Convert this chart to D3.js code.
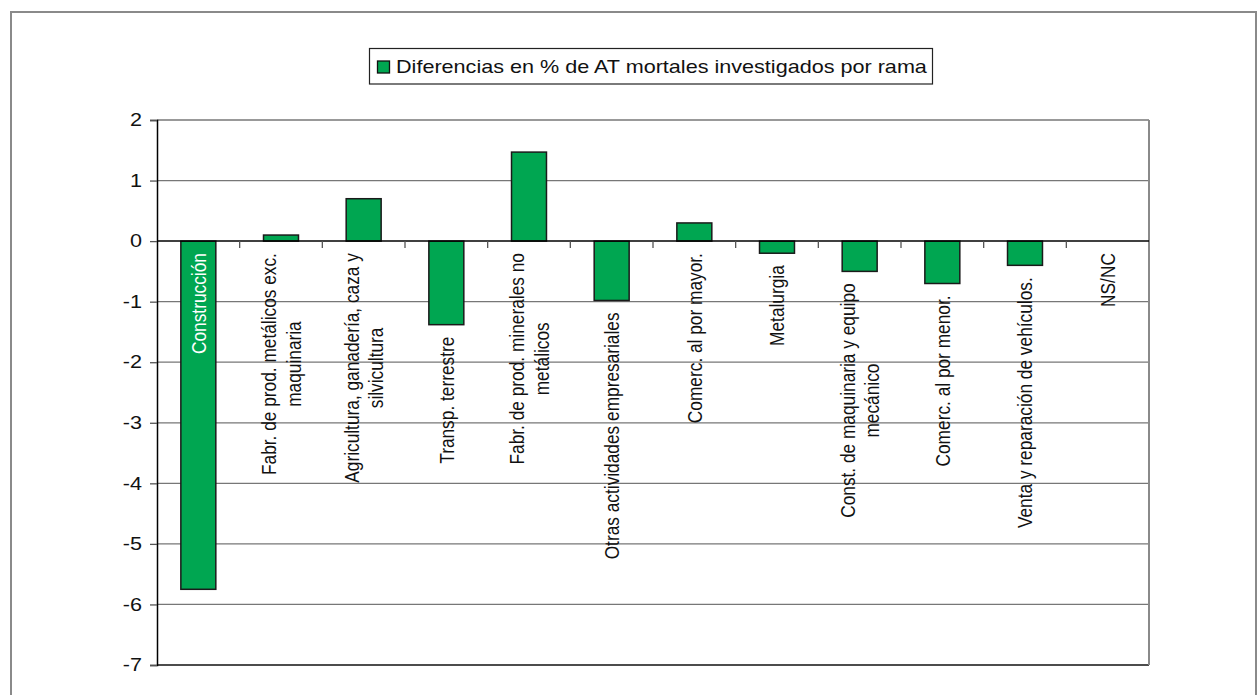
<!DOCTYPE html>
<html><head><meta charset="utf-8">
<script src="https://cdn.jsdelivr.net/npm/d3@7"></script>
<style>body{margin:0;background:#fff}svg{display:block;font-family:"Liberation Sans",Arial,sans-serif}</style>
</head><body>
<svg id="c" width="1257" height="695"></svg>
<script>
const categories = [
  "Construcción",
  "Fabr. de prod. metálicos exc.\nmaquinaria",
  "Agricultura, ganadería, caza y\nsilvicultura",
  "Transp. terrestre",
  "Fabr. de prod. minerales no\nmetálicos",
  "Otras actividades empresariales",
  "Comerc. al por mayor.",
  "Metalurgia",
  "Const. de maquinaria y equipo\nmecánico",
  "Comerc. al por menor.",
  "Venta y reparación de vehículos.",
  "NS/NC"
];
const values = [-5.75, 0.1, 0.7, -1.38, 1.47, -0.98, 0.3, -0.2, -0.5, -0.7, -0.4, 0];
const yTicks = [2, 1, 0, -1, -2, -3, -4, -5, -6, -7];
const seriesName = "Diferencias en % de AT mortales investigados por rama";

const svg = d3.select("#c");
const plot = {left: 157, right: 1149, top: 120, bottom: 665};
const green = "#00a651";
const SX = 1.2; // horizontal stretch of text in the reference

// outer frame
svg.append("rect").attr("x", 11).attr("y", 12).attr("width", 1245).attr("height", 700)
  .attr("fill", "none").attr("stroke", "#8a8a8a").attr("stroke-width", 2);

const x = d3.scaleBand().domain(d3.range(categories.length)).range([plot.left, plot.right]).paddingInner(0.577).paddingOuter(0.2885);
const xb = d3.scaleBand().domain(d3.range(categories.length)).range([plot.left, plot.right]);
const y = d3.scaleLinear().domain([-7, 2]).range([plot.bottom, plot.top]);

// gridlines
svg.append("g").selectAll("line").data(yTicks.filter(d => d !== 0)).join("line")
  .attr("x1", plot.left).attr("x2", plot.right)
  .attr("y1", d => y(d)).attr("y2", d => y(d))
  .attr("stroke", d => d === -7 ? "#111" : "#777").attr("stroke-width", d => d === -7 ? 1.5 : 1.3);

// right border
svg.append("line").attr("x1", plot.right).attr("x2", plot.right).attr("y1", plot.top).attr("y2", plot.bottom)
  .attr("stroke", "#8a8a8a").attr("stroke-width", 2);

// y axis
const yAxis = d3.axisLeft(y).tickValues(yTicks).tickSize(7).tickPadding(8).tickFormat(d => String(d));
const gy = svg.append("g").attr("transform", `translate(${plot.left},0)`).call(yAxis);
gy.select(".domain").attr("stroke", "#000").attr("stroke-width", 1.5);
gy.selectAll(".tick line").attr("stroke", "#555").attr("stroke-width", 1.3);
gy.selectAll(".tick text").attr("font-size", 18).attr("fill", "#111")
  .attr("font-family", "Liberation Sans, Arial, sans-serif")
  .attr("x", 0).attr("transform", `translate(-15,0) scale(${SX},1)`);

// bars
svg.append("g").selectAll("rect").data(values).join("rect")
  .attr("x", (d, i) => x(i)).attr("width", x.bandwidth())
  .attr("y", d => y(Math.max(0, d))).attr("height", d => Math.abs(y(d) - y(0)))
  .attr("fill", green).attr("stroke", "#1a1a1a").attr("stroke-width", 1.5);

// x axis at zero with category ticks
const xAxisG = svg.append("g");
xAxisG.append("line").attr("x1", plot.left).attr("x2", plot.right).attr("y1", y(0)).attr("y2", y(0))
  .attr("stroke", "#000").attr("stroke-width", 1.5);
xAxisG.selectAll("line.tk").data(d3.range(1, categories.length)).join("line").attr("class", "tk")
  .attr("x1", i => xb(i)).attr("x2", i => xb(i)).attr("y1", y(0)).attr("y2", y(0) + 7)
  .attr("stroke", "#555").attr("stroke-width", 1.3);

// category labels (rotated)
const lh = 20.5, gap = 12, fs = 17.3;
const lblG = svg.append("g");
categories.forEach((c, i) => {
  const lines = c.split("\n");
  const cx = xb(i) + xb.bandwidth() / 2;
  const t = lblG.append("text").attr("font-size", fs).attr("text-anchor", "middle");
  lines.forEach(ln => t.append("tspan").text(ln));
  let maxLen = 0;
  t.selectAll("tspan").each(function() { maxLen = Math.max(maxLen, this.getComputedTextLength()); });
  const v = values[i];
  let top = Math.max(y(0), y(v)) + gap;
  let color = "#111";
  if (top + maxLen > plot.bottom) { top = y(0) + gap; color = "#fff"; }
  const cy = top + maxLen / 2;
  t.attr("transform", `translate(${cx},${cy}) scale(${SX},1) rotate(-90)`).attr("fill", color);
  t.selectAll("tspan").attr("x", 0).attr("y", (d, k) => (k - (lines.length - 1) / 2) * lh).attr("dy", "0.35em");
});

// legend
const lg = svg.append("g");
lg.append("rect").attr("x", 369.5).attr("y", 48.5).attr("width", 563).attr("height", 35.5)
  .attr("fill", "#fff").attr("stroke", "#222").attr("stroke-width", 1.2);
lg.append("rect").attr("x", 377.5).attr("y", 61).attr("width", 12).attr("height", 12)
  .attr("fill", green).attr("stroke", "#111").attr("stroke-width", 1.3);
lg.append("text").attr("transform", `translate(396,73) scale(${SX},1)`)
  .attr("font-size", 18).attr("fill", "#111").text(seriesName);
</script>
</body></html>
